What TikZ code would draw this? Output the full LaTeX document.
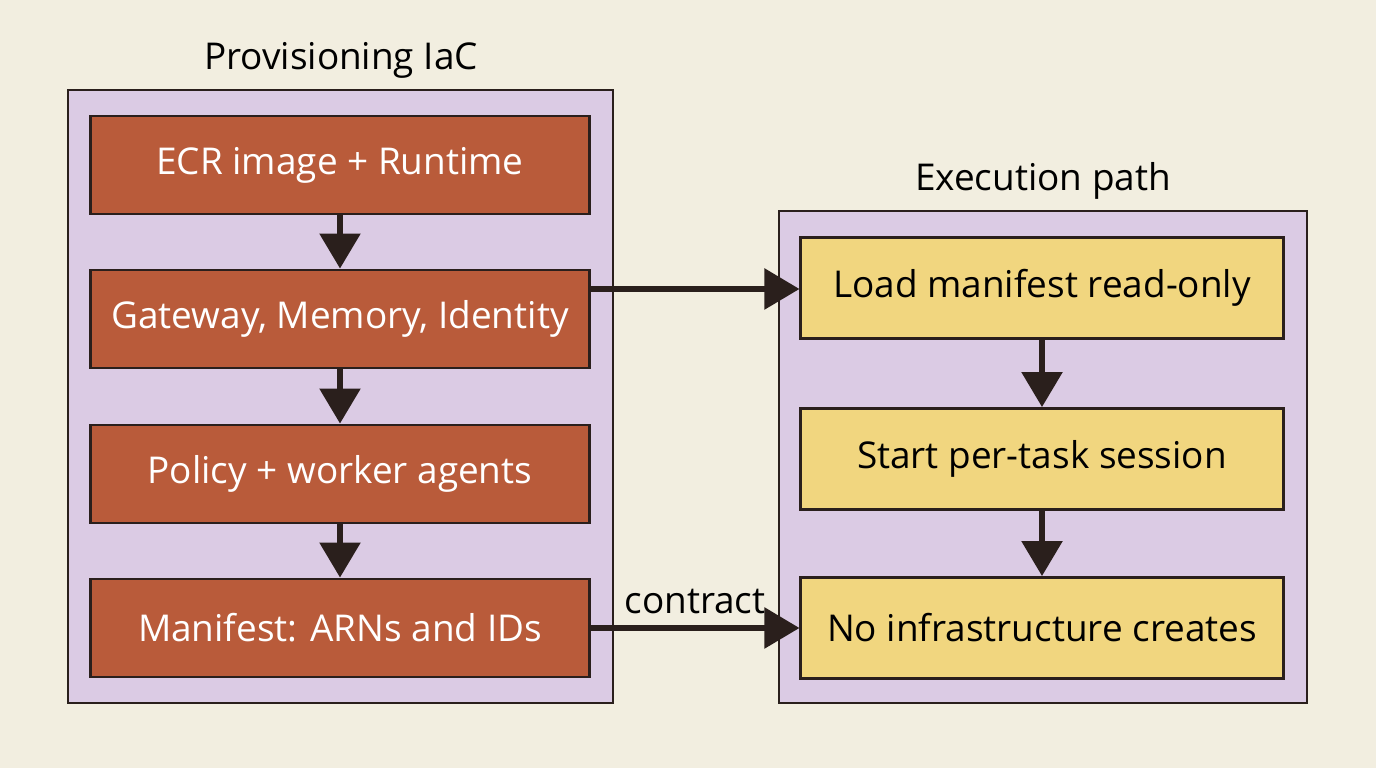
\documentclass[tikz,border=0pt]{standalone}
\usepackage{fontspec}
\setmainfont{Open Sans}
\usetikzlibrary{positioning, arrows.meta}
\definecolor{bgcream}{HTML}{F2EEE0}
\definecolor{lavender}{HTML}{DBCBE4}
\definecolor{rust}{HTML}{B95B3A}
\definecolor{sand}{HTML}{F1D67F}
\definecolor{ink}{HTML}{2A1F1C}
\begin{document}
\begin{tikzpicture}[x=0.01cm, y=-0.01cm,
    group/.style={draw=ink, line width=0.8pt, fill=lavender},
    provbox/.style={draw=ink, line width=0.8pt, fill=rust, text=white, minimum width=4.98cm, minimum height=0.98cm, font=\fontsize{10.5}{12}\selectfont},
    execbox/.style={draw=ink, line width=0.8pt, fill=sand, text=black, minimum width=4.82cm, minimum height=1.01cm, font=\fontsize{10.5}{12}\selectfont},
    flow/.style={draw=ink, line width=1.6pt, -{Triangle[length=3.5mm, width=4mm]}}]
                % CANVAS
                \fill[bgcream] (0,0) rectangle (1376,768);
                \useasboundingbox (0,0) rectangle (1376,768);

                % GROUPS
                \draw[group] (68,90) rectangle (613,703);
                \draw[group] (779,211) rectangle (1307,703);
                \node[font=\fontsize{10.5}{12}\selectfont] (provtitle) at (341,60) {Provisioning IaC};
                \node[font=\fontsize{10.5}{12}\selectfont] (exectitle) at (1043,181) {Execution path};

                % PROVISIONING
                \node[provbox] (ecr) at (340,165) {ECR image + Runtime};
                \node[provbox] (gw) at (340,319) {Gateway, Memory, Identity};
                \node[provbox] (policy) at (340,474) {Policy + worker agents};
                \node[provbox] (manifest) at (340,628) {Manifest: ARNs and IDs};

                % EXECUTION
                \node[execbox] (load) at (1042,288) {Load manifest read-only};
                \node[execbox] (session) at (1042,459) {Start per-task session};
                \node[execbox] (noinfra) at (1042,628) {No infrastructure creates};

                % FLOWS
                \draw[flow] (ecr) -- (gw);
                \draw[flow] (gw) -- (policy);
                \draw[flow] (policy) -- (manifest);
                \draw[flow] (load) -- (session);
                \draw[flow] (session) -- (noinfra);
                \draw[flow] (gw.east |- 0,289) -- (load.west |- 0,289);
                \draw[flow] (manifest) -- node[above, text=black, font=\fontsize{10.5}{12}\selectfont] {contract} (noinfra);
\end{tikzpicture}
\end{document}
